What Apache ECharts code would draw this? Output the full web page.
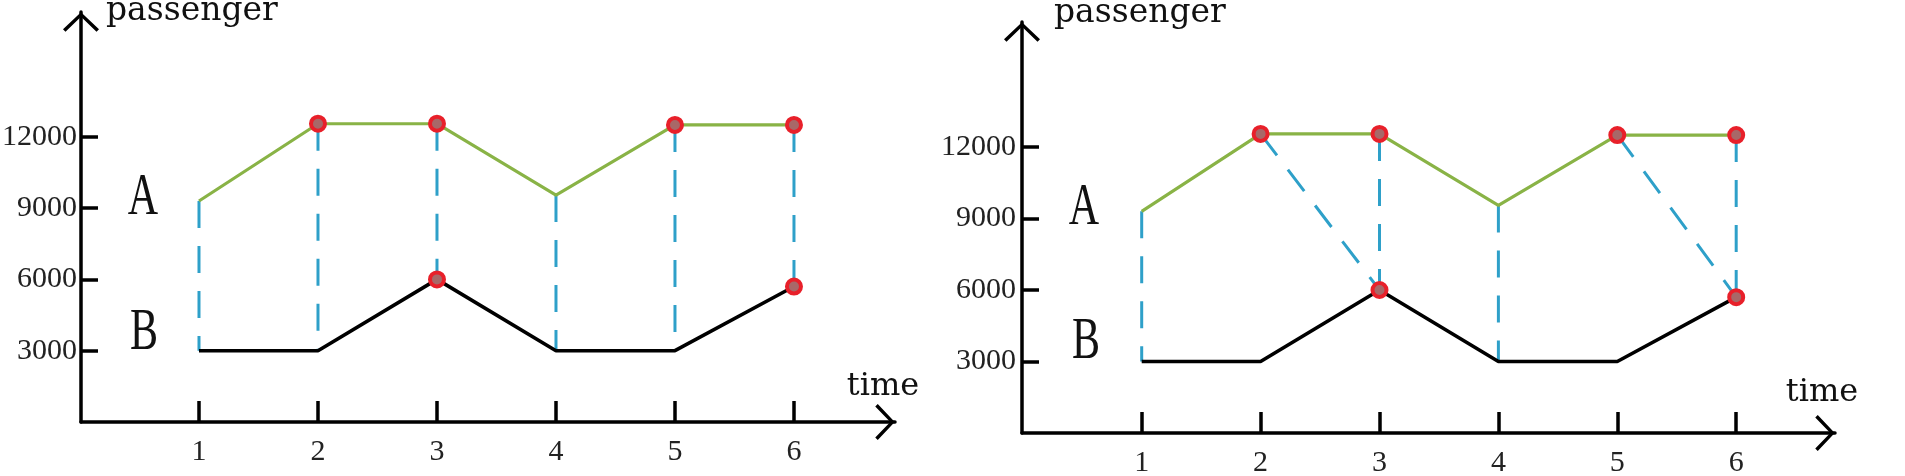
<!DOCTYPE html>
<html><head><meta charset="utf-8">
<script src="https://cdn.jsdelivr.net/npm/echarts@6/dist/echarts.min.js"></script>
<style>html,body{margin:0;padding:0;background:#fff}#c{width:1905px;height:476px}</style>
</head><body><div id="c"></div>
<script>
// ---------- data ----------
const times = [1, 2, 3, 4, 5, 6];
const passengersA = [9300, 12550, 12550, 9550, 12500, 12500];
const passengersB = [3000, 3000, 6000, 3000, 3000, 5700];
const yTickValues = [3000, 6000, 9000, 12000];
const markedA = [2, 3, 5, 6];
const markedB = [3, 6];
const linksLeft = [[1, 1], [2, 2], [3, 3], [4, 4], [5, 5], [6, 6]];
const linksRight = [[1, 1], [2, 3], [3, 3], [4, 4], [5, 6], [6, 6]];
const lineLabels = ['A', 'B'];
const xName = 'time';
const yName = 'passenger';

// ---------- layout ----------
const panels = [
  { left: 81, top: 12, width: 814, height: 410, xMin: 0.0084, xMax: 6.849, yMax: 17251,
    links: linksLeft, xNameGap: -12, xNamePad: 20, yNameGap: 1, yNamePad: 25,
    labelA: [143, 198], labelB: [144, 333], yLabelMargin: 4 },
  { left: 1022, top: 22, width: 813, height: 411, xMin: -0.0067, xMax: 6.831, yMax: 17245,
    links: linksRight, xNameGap: -13, xNamePad: 25, yNameGap: 9, yNamePad: 32,
    labelA: [1084, 208], labelB: [1086, 342], yLabelMargin: 6 }
];

const GREEN = '#89b346', BLUE = '#2ea0c9', RED = '#e8202a';
const chevron = 'path://M0,17 L18,0 L36,17 L33.5,19.5 L18,4.5 L2.5,19.5 Z';
const axisLineStyle = { color: '#000', width: 3.5 };

const grid = [], xAxis = [], yAxis = [], series = [], graphic = [];
panels.forEach((p, k) => {
  grid.push({ left: p.left, top: p.top, width: p.width, height: p.height,
              containLabel: false, outerBoundsMode: 'none' });
  xAxis.push({
    type: 'value', gridIndex: k, min: p.xMin, max: p.xMax,
    name: xName, nameLocation: 'end', nameGap: p.xNameGap,
    nameTextStyle: { fontFamily: 'DejaVu Serif', fontSize: 32, color: '#111',
                     align: 'center', verticalAlign: 'bottom', lineHeight: 30,
                     padding: [0, 0, p.xNamePad, 0] },
    axisLine: { show: true, onZero: false, lineStyle: axisLineStyle,
                symbol: ['none', chevron], symbolSize: [36, 20], symbolOffset: [0, -10] },
    axisTick: { show: true, inside: true, length: 21, customValues: times,
                lineStyle: { color: '#000', width: 3.5 } },
    axisLabel: { show: true, customValues: times, margin: 15, color: '#222',
                 fontFamily: 'Liberation Serif', fontSize: 30,
                 formatter: v => String(v) },
    splitLine: { show: false }
  });
  yAxis.push({
    type: 'value', gridIndex: k, min: 0, max: p.yMax,
    name: yName, nameLocation: 'end', nameGap: p.yNameGap,
    nameTextStyle: { fontFamily: 'DejaVu Serif', fontSize: 33, color: '#111',
                     align: 'left', verticalAlign: 'middle',
                     padding: [0, 0, 0, p.yNamePad] },
    axisLine: { show: true, onZero: false, lineStyle: axisLineStyle,
                symbol: ['none', chevron], symbolSize: [36, 20], symbolOffset: [0, -10] },
    axisTick: { show: true, inside: true, length: 17, customValues: yTickValues,
                lineStyle: { color: '#000', width: 3.5 } },
    axisLabel: { show: true, customValues: yTickValues, margin: p.yLabelMargin, color: '#222',
                 fontFamily: 'Liberation Serif', fontSize: 30,
                 formatter: v => String(v) },
    splitLine: { show: false }
  });
  p.links.forEach(([ta, tb]) => {
    series.push({
      type: 'line', xAxisIndex: k, yAxisIndex: k, silent: true, showSymbol: false, z: 2,
      lineStyle: { color: BLUE, width: 3, type: [27, 18] },
      data: [[ta, passengersA[ta - 1]], [tb, passengersB[tb - 1]]]
    });
  });
  series.push({
    type: 'line', xAxisIndex: k, yAxisIndex: k, silent: true, showSymbol: false, z: 3,
    lineStyle: { color: GREEN, width: 3.2 },
    data: times.map((t, i) => [t, passengersA[i]])
  });
  series.push({
    type: 'line', xAxisIndex: k, yAxisIndex: k, silent: true, showSymbol: false, z: 3,
    lineStyle: { color: '#000', width: 3.6 },
    data: times.map((t, i) => [t, passengersB[i]])
  });
  series.push({
    type: 'scatter', xAxisIndex: k, yAxisIndex: k, silent: true, z: 5,
    symbolSize: 14,
    itemStyle: { color: '#a86868', borderColor: RED, borderWidth: 4, opacity: 1 },
    data: markedA.map(t => [t, passengersA[t - 1]])
          .concat(markedB.map(t => [t, passengersB[t - 1]]))
  });
  [p.labelA, p.labelB].forEach((pos, j) => {
    graphic.push({
      type: 'text', x: pos[0], y: pos[1], scaleX: 0.7, originX: 0, originY: 0,
      style: { text: lineLabels[j], fontFamily: 'Liberation Serif', fontSize: 60,
               fill: '#111', align: 'center', verticalAlign: 'middle' }
    });
  });
});

const chart = echarts.init(document.getElementById('c'), null, { renderer: 'canvas' });
chart.setOption({
  animation: false,
  backgroundColor: '#fff',
  grid, xAxis, yAxis, series, graphic
});
</script>
</body></html>
